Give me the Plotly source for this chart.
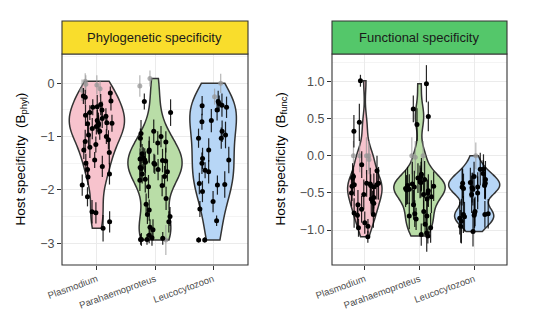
import numpy as np
import plotly.graph_objects as go

# Parasite genera (x categories)
genera = ["Plasmodium", "Parahaemoproteus", "Leucocytozoon"]

# ---- Phylogenetic specificity (B_phyl): estimates, CI half-widths, grey flag ----
phyl_plas = [0.04, -0.03, -0.10, -0.13, -0.02,
             -0.18, -0.24, -0.26, -0.33, -0.40, -0.45, -0.44, -0.50, -0.55, -0.60,
             -0.62, -0.66, -0.70, -0.74, -0.75, -0.75, -0.76, -0.78, -0.81, -0.85,
             -0.90, -0.97, -1.00, -1.06, -1.09, -1.15, -1.20, -1.25, -1.30, -1.44,
             -1.50, -1.56, -1.62, -1.70, -1.76, -1.91, -2.13, -2.41, -2.43, -2.60,
             -2.72]
phyl_plas_err = [0.15, 0.18, 0.16, 0.2, 0.17,
                 0.12, 0.15, 0.14, 0.18, 0.2, 0.15, 0.22, 0.16, 0.14, 0.2,
                 0.15, 0.18, 0.2, 0.14, 0.2, 0.16, 0.22, 0.18, 0.15, 0.2,
                 0.16, 0.2, 0.14, 0.18, 0.22, 0.15, 0.2, 0.17, 0.22, 0.15,
                 0.18, 0.2, 0.16, 0.2, 0.15, 0.2, 0.18, 0.22, 0.2, 0.2,
                 0.25]
phyl_plas_grey = [1, 1, 1, 1, 1] + [0] * 41

phyl_para = [0.09, -0.05,
             -0.34, -0.55, -0.90, -1.00, -0.94, -1.03, -1.10, -1.12,
             -1.28, -1.25, -1.32, -1.44, -1.42, -1.46, -1.50, -1.40, -1.45, -1.48,
             -1.60, -1.62, -1.66, -1.58, -1.75, -1.80, -1.70, -1.82, -1.94, -1.92,
             -1.52, -2.16, -2.27, -2.38, -2.46, -2.50, -2.60, -2.70, -2.75, -2.85,
             -2.91, -2.93, -2.93, -2.90, -2.93, -2.94]
phyl_para_err = [0.15, 0.2,
                 0.15, 0.25, 0.22, 0.2, 0.25, 0.18, 0.2, 0.22,
                 0.2, 0.25, 0.18, 0.22, 0.2, 0.25, 0.18, 0.2, 0.22, 0.2,
                 0.25, 0.2, 0.18, 0.22, 0.2, 0.25, 0.18, 0.2, 0.22, 0.2,
                 0.18, 0.22, 0.2, 0.2, 0.18, 0.18, 0.2, 0.15, 0.2, 0.15,
                 0.12, 0.1, 0.12, 0.15, 0.1, 0.28]
phyl_para_grey = [1, 1] + [0] * 43 + [1]

phyl_leuc = [0.00, -0.25,
             -0.34, -0.38, -0.41, -0.45, -0.42, -0.50, -0.72, -0.70, -0.90, -0.97,
             -1.03, -1.03, -1.25, -1.41, -1.44, -1.50, -1.63, -1.66, -1.88, -1.90,
             -1.91, -2.03, -2.22, -2.36, -2.58, -2.94, -2.94]
phyl_leuc_err = [0.18, 0.15,
                 0.2, 0.15, 0.22, 0.2, 0.18, 0.2, 0.15, 0.22, 0.2, 0.25,
                 0.2, 0.18, 0.22, 0.2, 0.25, 0.2, 0.15, 0.22, 0.2, 0.25,
                 0.18, 0.2, 0.2, 0.15, 0.1, 0.05, 0.05]
phyl_leuc_grey = [1, 1] + [0] * 27

# ---- Functional specificity (B_func) ----
func_plas = [0.0, 0.0, 0.0, 0.0, -0.05,
             1.01, 0.33, 0.45, -0.12, -0.20, -0.28, -0.30, -0.37, -0.37, -0.39,
             -0.40, -0.41, -0.42, -0.38, -0.39, -0.52, -0.50, -0.56, -0.58, -0.64,
             -0.62, -0.66, -0.79, -0.80, -0.77, -0.72, -0.90, -0.97, -0.95, -1.09]
func_plas_err = [0.2, 0.25, 0.2, 0.22, 0.2,
                 0.08, 0.22, 0.25, 0.18, 0.2, 0.15, 0.2, 0.18, 0.22, 0.2,
                 0.15, 0.2, 0.18, 0.22, 0.15, 0.2, 0.18, 0.15, 0.2, 0.18,
                 0.15, 0.2, 0.18, 0.15, 0.2, 0.18, 0.15, 0.12, 0.1, 0.08]
func_plas_grey = [1, 1, 1, 1, 1] + [0] * 30

func_para = [0.0, 0.0, -0.02,
             0.97, 0.63, 0.53, 0.42, -0.28, -0.32, -0.35, -0.38, -0.41, -0.40,
             -0.42, -0.36, -0.44, -0.45, -0.47, -0.50, -0.52, -0.55, -0.58, -0.66,
             -0.75, -0.78, -0.81, -0.85, -0.81, -0.97, -0.92, -1.04, -1.06, -1.08,
             -0.30, -0.25, -0.46]
func_para_err = [0.25, 0.2, 0.22,
                 0.25, 0.18, 0.2, 0.22, 0.2, 0.25, 0.22, 0.3, 0.2, 0.25,
                 0.22, 0.2, 0.25, 0.2, 0.22, 0.18, 0.2, 0.22, 0.25, 0.2,
                 0.15, 0.18, 0.2, 0.15, 0.18, 0.2, 0.15, 0.25, 0.15, 0.1,
                 0.2, 0.22, 0.2]
func_para_grey = [1, 1, 1] + [0] * 33

func_leuc = [0.0,
             -0.18, -0.18, -0.24, -0.28, -0.32, -0.37, -0.37, -0.36, -0.42, -0.42,
             -0.45, -0.43, -0.40, -0.44, -0.50, -0.52, -0.75, -0.80, -0.79, -0.77,
             -0.79, -0.82, -0.84, -0.88, -1.02, -0.78, -0.95]
func_leuc_err = [0.18,
                 0.2, 0.22, 0.18, 0.2, 0.25, 0.2, 0.22, 0.2, 0.25, 0.2,
                 0.22, 0.2, 0.18, 0.2, 0.22, 0.25, 0.2, 0.22, 0.25, 0.2,
                 0.18, 0.2, 0.22, 0.3, 0.2, 0.2, 0.22]
func_leuc_grey = [1] + [0] * 27

fills = ["#F7C3CD", "#B9DDA7", "#B7D6F6"]
violin_widths_phyl = [0.95, 0.93, 0.8]
violin_widths_func = [0.63, 0.94, 0.93]

W, H = 541, 326


def nrd0(values):
    """Silverman's rule of thumb as used by R's density() (bw.nrd0)."""
    x = np.asarray(values, dtype=float)
    q75, q25 = np.percentile(x, [75, 25])
    lo = min(x.std(ddof=1), (q75 - q25) / 1.34)
    return 0.9 * lo * len(x) ** -0.2


panels = [
    dict(title="Phylogenetic specificity", strip="#F9DD2C",
         ytitle="Host specificity  (B<sub>phyl</sub>)",
         groups=[(phyl_plas, phyl_plas_err, phyl_plas_grey),
                 (phyl_para, phyl_para_err, phyl_para_grey),
                 (phyl_leuc, phyl_leuc_err, phyl_leuc_grey)],
         widths=violin_widths_phyl, xdom=[62 / W, 248 / W],
         yrange=[-3.41, 0.55], dtick=1, minor=0.5, tickformat="d",
         title_x=21 / W),
    dict(title="Functional specificity", strip="#54C76A",
         ytitle="Host specificity  (B<sub>func</sub>)",
         groups=[(func_plas, func_plas_err, func_plas_grey),
                 (func_para, func_para_err, func_para_grey),
                 (func_leuc, func_leuc_err, func_leuc_grey)],
         widths=violin_widths_func, xdom=[332 / W, 507 / W],
         yrange=[-1.47, 1.37], dtick=0.5, minor=0.25, tickformat=".1f",
         title_x=281 / W),
]

ydom = [1 - 265 / H, 1 - 54 / H]
strip_top = 1 - 21 / H

fig = go.Figure()
rng = np.random.default_rng(11)
font = "Liberation Sans, Arial, sans-serif"

for p_i, p in enumerate(panels):
    xa = "x" if p_i == 0 else "x2"
    ya = "y" if p_i == 0 else "y2"
    for g_i, (vals, errs, grey) in enumerate(p["groups"]):
        pos = g_i + 1
        fig.add_trace(go.Violin(
            x=[pos] * len(vals), y=vals, xaxis=xa, yaxis=ya,
            width=p["widths"][g_i], spanmode="hard", points=False,
            bandwidth=nrd0(vals),
            fillcolor=fills[g_i], opacity=1,
            line=dict(color="#333333", width=1.5),
            box_visible=False, meanline_visible=False,
            showlegend=False, hoverinfo="skip"))
        jit = rng.uniform(-0.27, 0.27, len(vals))
        v = np.array(vals)
        e = np.array(errs)
        gmask = np.array(grey) == 1
        for mask, col, ecol in [(gmask, "rgba(150,150,150,0.75)", "rgba(150,150,150,0.7)"),
                                (~gmask, "#000000", "rgba(0,0,0,0.85)")]:
            if mask.sum() == 0:
                continue
            fig.add_trace(go.Scatter(
                x=pos + jit[mask], y=v[mask], xaxis=xa, yaxis=ya,
                mode="markers",
                marker=dict(size=5, color=col),
                error_y=dict(type="data", array=e[mask], color=ecol,
                             thickness=1.2, width=0),
                showlegend=False, hoverinfo="skip"))

    axis_common = dict(showline=False, ticks="outside", ticklen=4,
                       tickcolor="#333333", tickwidth=1, zeroline=False,
                       showgrid=True, gridcolor="#EBEBEB", gridwidth=1.1,
                       automargin=False)
    xk = "xaxis" if p_i == 0 else "xaxis2"
    yk = "yaxis" if p_i == 0 else "yaxis2"
    fig.update_layout(**{
        xk: dict(axis_common, domain=p["xdom"], range=[0.4, 3.6],
                 tickvals=[1, 2, 3], ticktext=genera, tickangle=-20,
                 tickfont=dict(size=9.5, color="#4D4D4D", family=font),
                 anchor=ya),
        yk: dict(axis_common, domain=ydom, range=p["yrange"], dtick=p["dtick"],
                 tick0=0, tickformat=p["tickformat"],
                 tickfont=dict(size=12.5, color="#4D4D4D", family=font),
                 minor=dict(dtick=p["minor"], tick0=0, showgrid=True,
                            gridcolor="#F4F4F4", gridwidth=0.6, ticks=""),
                 anchor=xa),
    })
    # panel border
    fig.add_shape(type="rect", xref=f"{xa} domain", yref=f"{ya} domain",
                  x0=0, x1=1, y0=0, y1=1, line=dict(color="#333333", width=1.1),
                  layer="above")
    # facet strip
    fig.add_shape(type="rect", xref="paper", yref="paper",
                  x0=p["xdom"][0], x1=p["xdom"][1], y0=ydom[1], y1=strip_top,
                  fillcolor=p["strip"], line=dict(color="#333333", width=1.1))
    fig.add_annotation(xref="paper", yref="paper",
                       x=(p["xdom"][0] + p["xdom"][1]) / 2, xanchor="center",
                       y=(ydom[1] + strip_top) / 2, yanchor="middle",
                       text=p["title"], showarrow=False,
                       font=dict(size=13, color="#1A1A1A", family=font))
    # y-axis title
    fig.add_annotation(xref="paper", yref="paper",
                       x=p["title_x"], xanchor="center",
                       y=(ydom[0] + ydom[1]) / 2, yanchor="middle",
                       text=p["ytitle"], textangle=-90, showarrow=False,
                       font=dict(size=13.5, color="#000000", family=font))

fig.update_layout(width=W, height=H, margin=dict(l=0, r=0, t=0, b=0, autoexpand=False),
                  paper_bgcolor="white", plot_bgcolor="white")
fig.write_html("out.html")
